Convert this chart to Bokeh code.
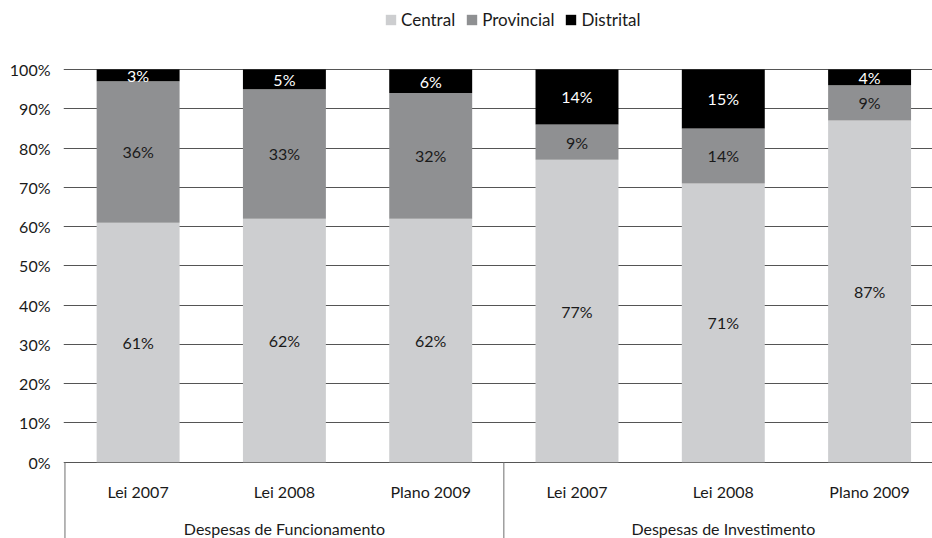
from bokeh.plotting import figure
from bokeh.models import (ColumnDataSource, Range1d, FixedTicker,
                          NumeralTickFormatter, Legend)
from bokeh.core.properties import value
from bokeh.embed import file_html
from bokeh.resources import INLINE

# Budget shares by level of government (%)
categories = ["Lei 2007", "Lei 2008", "Plano 2009",
              "Lei 2007", "Lei 2008", "Plano 2009"]
groups = ["Despesas de Funcionamento", "Despesas de Investimento"]
series = ["Central", "Provincial", "Distrital"]
central = [61, 62, 62, 77, 71, 87]
provincial = [36, 33, 32, 9, 14, 9]
distrital = [3, 5, 6, 14, 15, 4]

colors = ["#cdced0", "#8f9092", "#000000"]
label_colors = ["#1a1a1a", "#1a1a1a", "#ffffff"]
FONT = "Lato"
SIZE = "16px"

xs = [i + 0.5 for i in range(len(categories))]
source = ColumnDataSource(dict(
    x=xs,
    Central=[v / 100 for v in central],
    Provincial=[v / 100 for v in provincial],
    Distrital=[v / 100 for v in distrital],
))

p = figure(width=932, height=538, output_backend="svg", toolbar_location=None,
           x_range=Range1d(-0.01, 5.93), y_range=Range1d(-0.1943, 1.1757),
           x_axis_location=None, min_border_left=63, min_border_right=0,
           min_border_top=0, min_border_bottom=0)
p.outline_line_color = None
p.background_fill_color = "white"
p.border_fill_color = "white"
p.xgrid.visible = False

# y axis: 0%..100%
yax = p.yaxis[0]
yax.ticker = FixedTicker(ticks=[i / 10 for i in range(11)])
yax.formatter = NumeralTickFormatter(format="0%")
yax.axis_line_color = None
yax.major_tick_out = 0
yax.major_tick_in = 0
yax.minor_tick_line_color = None
yax.major_label_standoff = 13
yax.major_label_text_font = FONT
yax.major_label_text_font_size = SIZE
yax.major_label_text_color = "#1a1a1a"
p.ygrid.grid_line_color = "#555555"
p.ygrid.grid_line_width = 1

renderers = p.vbar_stack(series, x="x", width=0.567, color=colors,
                         line_color=None, source=source)

# value labels centred on each segment
lab_x, lab_y, lab_t, lab_c = [], [], [], []
for i in range(len(categories)):
    base = 0.0
    for vals, col in zip([central, provincial, distrital], label_colors):
        v = vals[i] / 100
        lab_x.append(xs[i])
        lab_y.append(base + v / 2)
        lab_t.append(f"{vals[i]}%")
        lab_c.append(col)
        base += v
p.text(x=lab_x, y=lab_y, text=lab_t, text_color=lab_c,
       text_align="center", text_baseline="middle",
       text_font=value(FONT), text_font_size=SIZE)

# category table below the bars
p.segment(x0=[0, 3], y0=[0, 0], x1=[0, 3], y1=[-0.2, -0.2],
          line_color="#6e6e6e", line_width=1)
p.text(x=xs, y=[-0.075] * len(xs), text=categories, text_color="#1a1a1a",
       text_align="center", text_baseline="middle",
       text_font=value(FONT), text_font_size=SIZE)
p.text(x=[1.5, 4.5], y=[-0.17, -0.17], text=groups, text_color="#1a1a1a",
       text_align="center", text_baseline="middle",
       text_font=value(FONT), text_font_size=SIZE)

legend = Legend(items=[(s, [r]) for s, r in zip(series, renderers)],
                orientation="horizontal", location=(321, 508),
                glyph_width=13, glyph_height=13, label_standoff=4,
                spacing=10, padding=0, margin=0,
                label_text_font=FONT, label_text_font_size="17px",
                label_text_color="#1a1a1a",
                background_fill_alpha=0, border_line_color=None)
p.add_layout(legend)

open("out.html", "w").write(file_html(p, INLINE))
